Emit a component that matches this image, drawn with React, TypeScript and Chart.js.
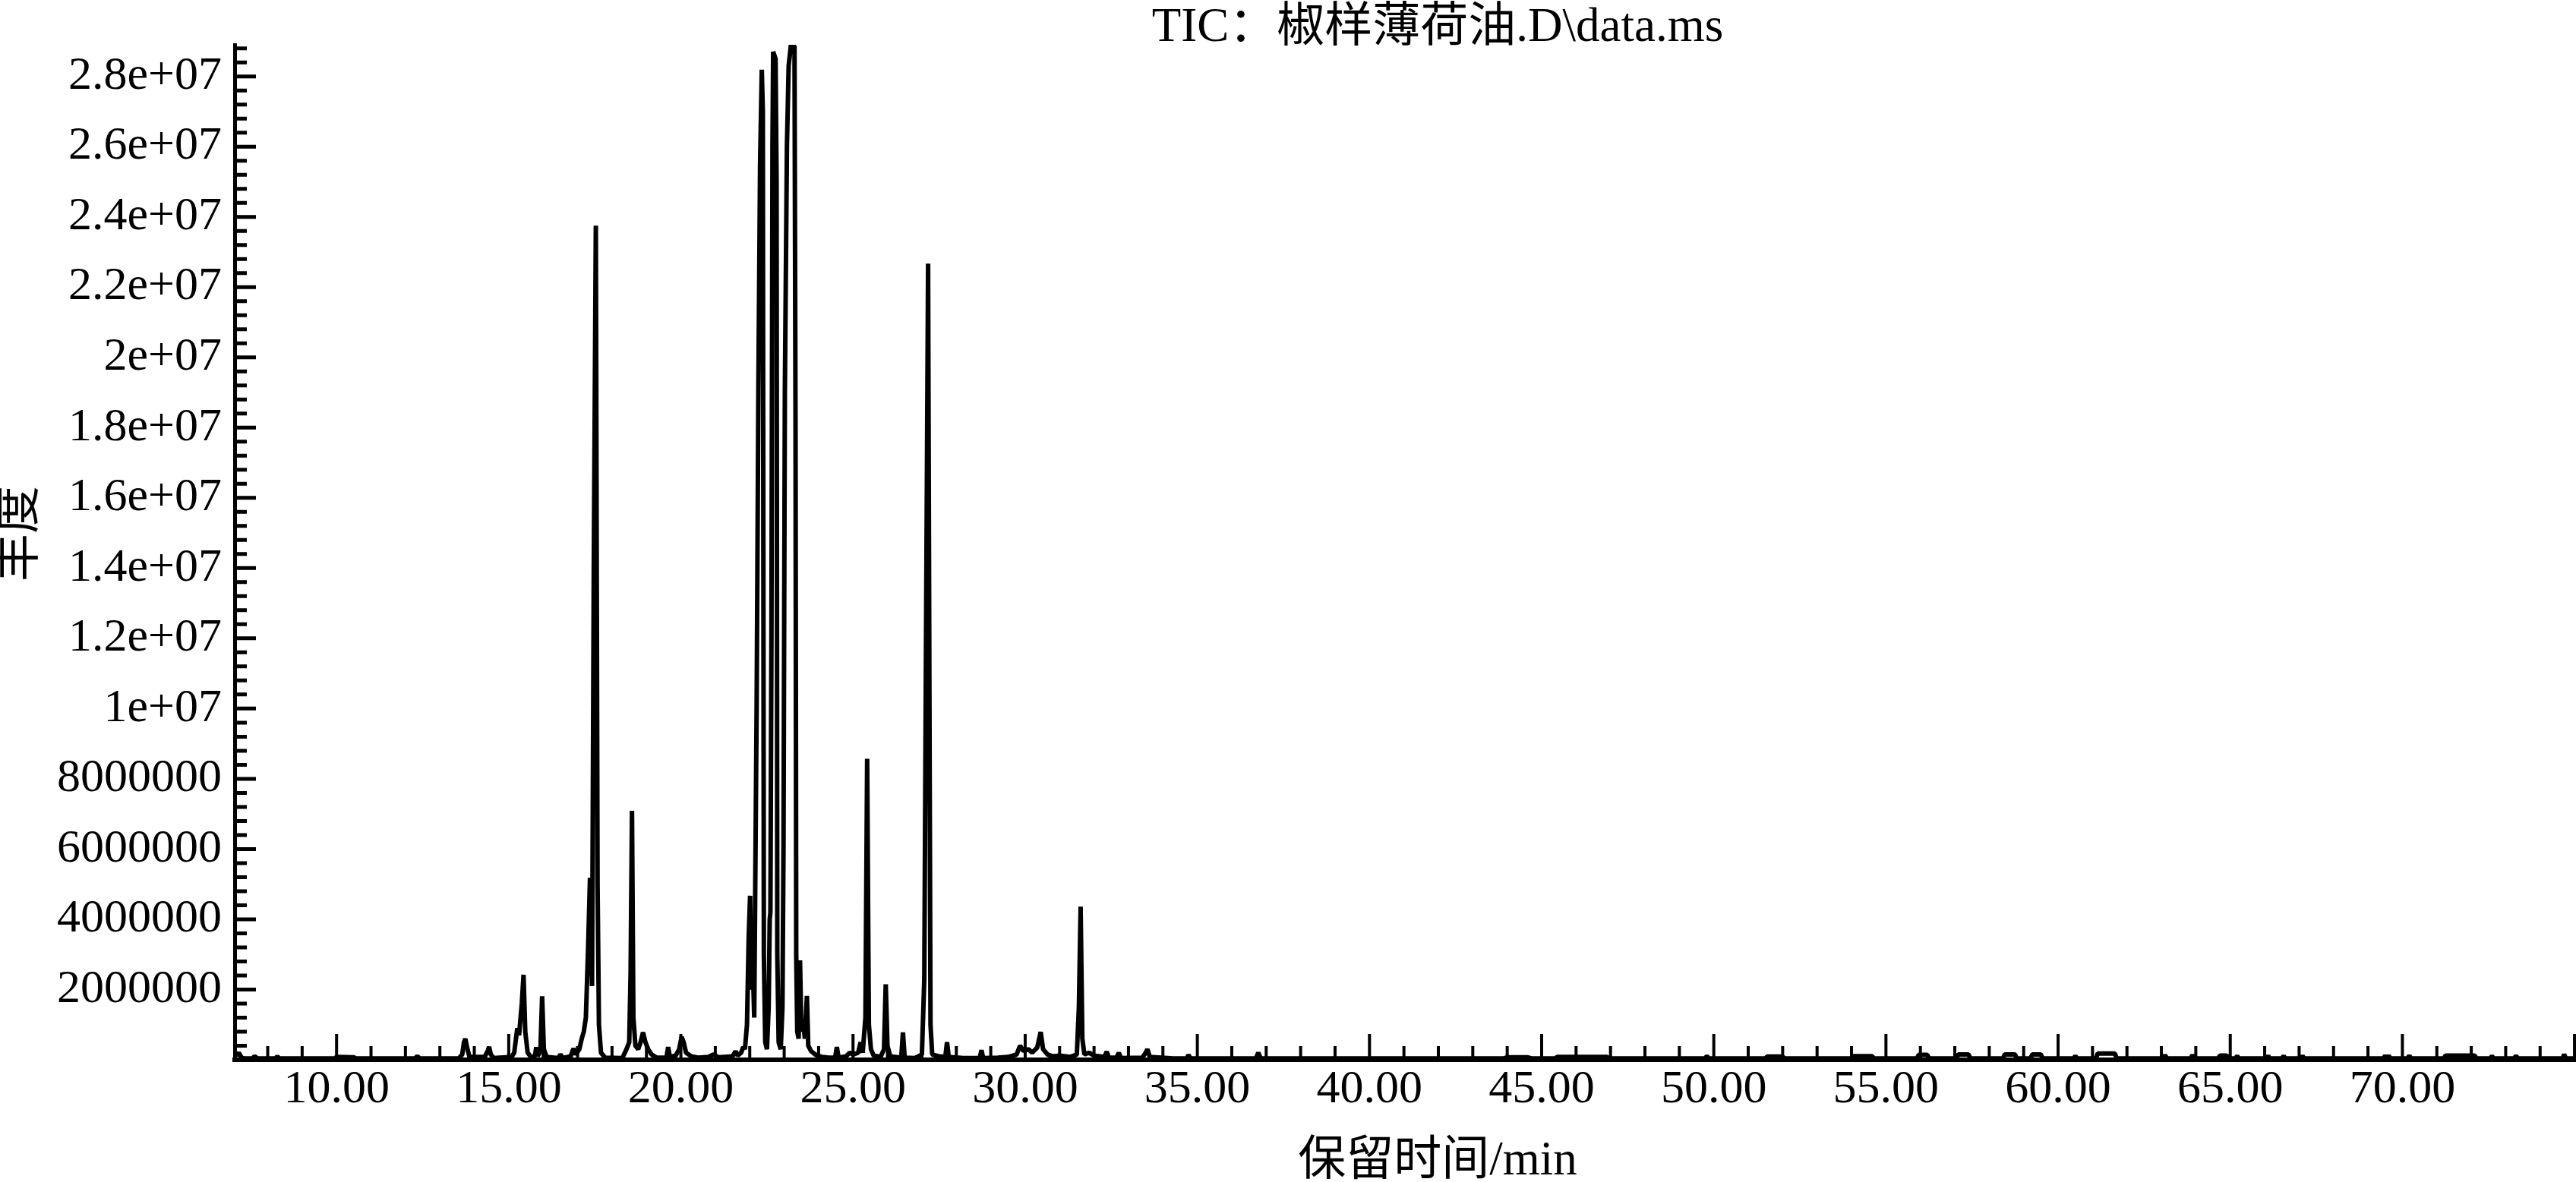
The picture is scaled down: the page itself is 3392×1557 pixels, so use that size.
import React, { useEffect, useRef } from "react";
import { Chart, registerables } from "chart.js";

Chart.register(...registerables);

// ---------- text ----------
const chartTitle = "TIC：椒样薄荷油.D\\data.ms";
const xAxisTitle = "保留时间/min";
const yAxisTitle = "丰度";

// ---------- axes ----------
const X_MIN = 7.04;
const X_MAX = 75.02;
const Y_MIN = 0;
const Y_MAX = 28900000;
const xMinorStep = 1;
const xMajorEvery = 5;
const yMinorStep = 400000;
const yMajorEvery = 5;

const xTickValues = [10, 15, 20, 25, 30, 35, 40, 45, 50, 55, 60, 65, 70];
const xTickLabels = ["10.00", "15.00", "20.00", "25.00", "30.00", "35.00", "40.00", "45.00", "50.00", "55.00", "60.00", "65.00", "70.00"];
const yTickValues = [2e6, 4e6, 6e6, 8e6, 1e7, 1.2e7, 1.4e7, 1.6e7, 1.8e7, 2e7, 2.2e7, 2.4e7, 2.6e7, 2.8e7];
const yTickLabels = ["2000000", "4000000", "6000000", "8000000", "1e+07", "1.2e+07", "1.4e+07", "1.6e+07", "1.8e+07", "2e+07", "2.2e+07", "2.4e+07", "2.6e+07", "2.8e+07"];

// ---------- chromatogram (retention time / min, abundance) ----------
const rtEarly = [7.04, 7.1, 7.16, 7.24, 7.32, 7.56, 7.62, 7.7, 8.22, 8.28, 8.34, 9.95, 10.0, 10.5, 10.56, 12.28, 12.34, 12.42, 13.55, 13.65, 13.7, 13.74, 13.79, 13.86, 14.3, 14.39, 14.43, 14.48, 14.56, 15.08, 15.16, 15.21, 15.25, 15.3, 15.38, 15.43, 15.48, 15.55, 15.65, 15.76, 15.8, 15.84, 15.92, 15.97, 16.02, 16.1, 16.44, 16.5, 16.57, 16.8, 16.88, 16.95];
const abEarly = [2.2e5, 1.2e5, 2.0e5, 6e4, 4e4, 4e4, 1.0e5, 4e4, 4e4, 9e4, 4e4, 4e4, 8e4, 7e4, 4e4, 4e4, 1e5, 4e4, 4e4, 1.5e5, 5e5, 6e5, 3.5e5, 8e4, 8e4, 2.5e5, 3.7e5, 1.5e5, 5e4, 8e4, 2e5, 6e5, 9e5, 7e5, 1.6e6, 2.42e6, 8e5, 2e5, 8e4, 1e5, 3.6e5, 1e5, 2.5e5, 1.81e6, 3e5, 8e4, 5e4, 1.5e5, 5e4, 1e5, 3.2e5, 1.5e5];

const rtMain = [17.05, 17.12, 17.18, 17.24, 17.3, 17.36, 17.42, 17.47, 17.53, 17.58, 17.62, 17.68, 17.8, 18.3, 18.42, 18.5, 18.54, 18.58, 18.62, 18.68, 18.76, 18.83, 18.9, 18.97, 19.05, 19.15, 19.3, 19.58, 19.63, 19.68, 19.85, 19.95, 20.02, 20.08, 20.15, 20.3, 20.5, 20.8, 20.95, 21.1, 21.5, 21.59, 21.65, 21.75, 21.81, 21.86, 21.92, 21.97, 22.01, 22.05, 22.09, 22.13, 22.2, 22.25, 22.3, 22.35, 22.38, 22.41, 22.45, 22.5, 22.55, 22.58, 22.6, 22.63, 22.66, 22.68, 22.75, 22.78, 22.8, 22.84, 22.9, 22.95, 22.98, 23.02, 23.08, 23.13, 23.2, 23.3, 23.33, 23.35, 23.38, 23.42, 23.46, 23.5, 23.55, 23.6, 23.66, 23.7, 23.78, 23.9, 24.1, 24.3];
const abMain = [3e5, 6e5, 8e5, 1.2e6, 3e6, 5.18e6, 2.1e6, 1.4e7, 2.375e7, 5e6, 1e6, 2e5, 6e4, 5e4, 3e5, 5e5, 2.5e6, 7.09e6, 1.2e6, 4e5, 3e5, 5e5, 7.8e5, 5e5, 3e5, 1.5e5, 6e4, 6e4, 3.6e5, 8e4, 1.2e5, 3e5, 6.5e5, 5e5, 2e5, 1e5, 6e4, 8e4, 1.5e5, 7e4, 1e5, 2.4e5, 1.2e5, 2e5, 3.6e5, 3e5, 1e6, 3.5e6, 4.67e6, 2e6, 2.7e6, 1.2e6, 1e7, 1.9e7, 2.55e7, 2.819e7, 2.7e7, 3e6, 5e5, 3e5, 1.5e6, 4e6, 4.2e6, 1.2e7, 2.6e7, 2.87e7, 2.85e7, 2.5e7, 3e6, 5e5, 3e5, 1.5e6, 6e6, 1.9e7, 2.6e7, 2.83e7, 2.893e7, 2.885e7, 1.8e7, 3e6, 8e5, 6e5, 2.83e6, 8e5, 1.1e6, 6e5, 1.82e6, 4e5, 2.5e5, 1.5e5, 8e4, 6e4];

const rtLate = [24.48, 24.53, 24.58, 24.8, 24.9, 25.0, 25.15, 25.22, 25.28, 25.36, 25.41, 25.46, 25.52, 25.6, 25.8, 25.9, 25.95, 26.0, 26.08, 26.4, 26.45, 26.5, 26.8, 27.0, 27.07, 27.12, 27.18, 27.22, 27.25, 27.3, 27.5, 27.68, 27.73, 27.78, 28.2, 28.68, 28.73, 28.78, 29.2, 29.5, 29.75, 29.85, 29.95, 30.1, 30.2, 30.35, 30.45, 30.52, 30.65, 30.8, 31.0, 31.3, 31.5, 31.56, 31.61, 31.66, 31.72, 31.85, 32.0, 32.3, 32.37, 32.43, 32.65, 32.72, 32.78, 33.4, 33.5, 33.55, 33.62, 34.3, 34.7, 34.74, 34.8, 36.7, 36.77, 36.84];
const abLate = [6e4, 3.6e5, 6e4, 1e5, 2e5, 1.5e5, 2e5, 5e5, 2e5, 1.2e6, 8.57e6, 1e6, 3e5, 1.2e5, 8e4, 3e5, 2.15e6, 4e5, 1e5, 6e4, 7.8e5, 6e4, 5e4, 1.5e5, 2.3e6, 1.2e7, 2.267e7, 1e7, 1e6, 1.5e5, 1e5, 8e4, 5e5, 8e4, 5e4, 5e4, 2.7e5, 5e4, 6e4, 8e4, 1.5e5, 4e5, 2.5e5, 3e5, 2e5, 3.5e5, 7.9e5, 3e5, 1.5e5, 1e5, 1.2e5, 8e4, 1.5e5, 1.5e6, 4.36e6, 6e5, 1.5e5, 2e5, 1.2e5, 8e4, 2.3e5, 6e4, 6e4, 2e5, 5e4, 6e4, 2e5, 3e5, 8e4, 4e4, 4e4, 1.4e5, 4e4, 4e4, 2e5, 4e4];

const rtTail = [43.9, 44.0, 44.6, 44.7, 45.4, 45.45, 46.9, 46.95, 49.75, 49.8, 49.85, 51.5, 51.55, 52.0, 52.05, 54.0, 54.05, 54.6, 54.65, 55.9, 55.95, 56.2, 56.25, 57.05, 57.1, 57.4, 57.45, 58.4, 58.45, 58.75, 58.8, 59.2, 59.25, 59.5, 59.55, 60.45, 60.5, 60.55, 61.1, 61.15, 61.65, 61.7, 63.05, 63.1, 63.17, 63.85, 63.9, 63.96, 64.65, 64.7, 64.9, 64.95, 65.15, 65.2, 65.25, 66.05, 66.1, 66.15, 66.5, 66.55, 66.6, 67.05, 67.1, 67.15, 69.45, 69.5, 69.55, 69.6, 69.65, 70.15, 70.2, 70.25, 71.2, 71.25, 71.7, 71.8, 72.1, 72.15, 72.55, 72.6, 72.65, 73.25, 73.3, 73.35, 74.65, 74.7, 74.75, 75.02];
const abTail = [4e4, 7e4, 7e4, 4e4, 4e4, 8e4, 8e4, 4e4, 4e4, 1.1e5, 4e4, 4e4, 9e4, 9e4, 4e4, 4e4, 1e5, 1e5, 4e4, 4e4, 1.4e5, 1.4e5, 4e4, 4e4, 1.5e5, 1.5e5, 4e4, 4e4, 1.5e5, 1.5e5, 4e4, 4e4, 1.5e5, 1.5e5, 4e4, 4e4, 1.1e5, 4e4, 4e4, 1.8e5, 1.8e5, 4e4, 4e4, 1.3e5, 4e4, 4e4, 1.3e5, 4e4, 4e4, 1.2e5, 1.2e5, 4e4, 4e4, 1.1e5, 4e4, 4e4, 1.1e5, 4e4, 4e4, 1.1e5, 4e4, 4e4, 1.1e5, 4e4, 4e4, 1.2e5, 4e4, 1.2e5, 4e4, 4e4, 1.2e5, 4e4, 4e4, 1.2e5, 1.2e5, 1.2e5, 1.2e5, 4e4, 4e4, 1.1e5, 4e4, 4e4, 1.2e5, 4e4, 4e4, 1.5e5, 4e4, 4e4];

const FONT_FAMILY = '"Liberation Serif", "Noto Sans CJK SC", serif';
const TICK_FONT_SIZE = 62;
const TITLE_FONT_SIZE = 63;

function toPoints(rt: number[], ab: number[]) {
  return rt.map((t, i) => ({ x: t, y: ab[i] }));
}

const inwardTicks = {
  id: "inwardTicks",
  afterDatasetsDraw(chart: any) {
    const { ctx, chartArea, scales } = chart;
    const xs = scales.x;
    const ys = scales.y;
    ctx.save();
    ctx.strokeStyle = "#000";
    ctx.lineCap = "butt";
    ctx.lineWidth = 4;
    ctx.beginPath();
    for (let m = Math.ceil(xs.min / xMinorStep); m * xMinorStep <= xs.max; m++) {
      const px = xs.getPixelForValue(m * xMinorStep);
      if (px <= chartArea.left + 3) continue;
      const len = m % xMajorEvery === 0 ? 34 : 18;
      ctx.moveTo(px, chartArea.bottom);
      ctx.lineTo(px, chartArea.bottom - len);
    }
    ctx.stroke();
    ctx.lineWidth = 5;
    ctx.beginPath();
    for (let k = 1; k * yMinorStep <= ys.max; k++) {
      const py = ys.getPixelForValue(k * yMinorStep);
      const len = k % yMajorEvery === 0 ? 28 : 16;
      ctx.moveTo(chartArea.left, py);
      ctx.lineTo(chartArea.left + len, py);
    }
    ctx.stroke();
    ctx.restore();
  },
};

const titles = {
  id: "titles",
  afterDraw(chart: any) {
    const { ctx } = chart;
    ctx.save();
    ctx.fillStyle = "#000";
    ctx.font = `${TITLE_FONT_SIZE}px ${FONT_FAMILY}`;
    ctx.textAlign = "center";
    ctx.textBaseline = "alphabetic";
    ctx.fillText(chartTitle, 1893, 54);
    ctx.fillText(xAxisTitle, 1893, 1547);
    ctx.translate(27, 703);
    ctx.rotate(-Math.PI / 2);
    ctx.textBaseline = "middle";
    ctx.fillText(yAxisTitle, 0, 0);
    ctx.restore();
  },
};

export default function App() {
  const canvasRef = useRef<HTMLCanvasElement | null>(null);

  useEffect(() => {
    document.body.style.margin = "0";
    document.body.style.overflow = "hidden";
    const canvas = canvasRef.current;
    if (!canvas) return;
    const data = [
      ...toPoints(rtEarly, abEarly),
      ...toPoints(rtMain, abMain),
      ...toPoints(rtLate, abLate),
      ...toPoints(rtTail, abTail),
    ];
    const tickFont = { family: FONT_FAMILY, size: TICK_FONT_SIZE };
    const chart = new Chart(canvas, {
      type: "line",
      data: {
        datasets: [
          {
            data,
            borderColor: "#000",
            borderWidth: 6,
            borderJoinStyle: "bevel",
            pointRadius: 0,
            tension: 0,
            fill: false,
          },
        ],
      },
      plugins: [inwardTicks, titles],
      options: {
        animation: false,
        responsive: false,
        devicePixelRatio: 1,
        layout: { padding: { top: 59, right: 1, left: 0, bottom: 0 } },
        plugins: {
          legend: { display: false },
          tooltip: { enabled: false },
          title: { display: false },
        },
        scales: {
          x: {
            type: "linear",
            min: X_MIN,
            max: X_MAX,
            grid: { display: false, drawTicks: false },
            border: { display: true, color: "#000", width: 6 },
            ticks: {
              color: "#000",
              font: tickFont,
              padding: 3,
              maxRotation: 0,
              autoSkip: false,
              callback: (_v: any, i: number) => xTickLabels[i],
            },
            afterBuildTicks: (s: any) => {
              s.ticks = xTickValues.map((v) => ({ value: v }));
            },
            afterFit: (s: any) => {
              s.height = 161;
            },
          },
          y: {
            type: "linear",
            min: Y_MIN,
            max: Y_MAX,
            grid: { display: false, drawTicks: false },
            border: { display: true, color: "#000", width: 5 },
            ticks: {
              color: "#000",
              font: tickFont,
              padding: 17,
              autoSkip: false,
              callback: (_v: any, i: number) => yTickLabels[i],
            },
            afterBuildTicks: (s: any) => {
              s.ticks = yTickValues.map((v) => ({ value: v }));
            },
            afterFit: (s: any) => {
              s.width = 309;
            },
          },
        },
      } as any,
    });
    return () => chart.destroy();
  }, []);

  return <canvas ref={canvasRef} width={3392} height={1557} style={{ display: "block" }} />;
}
